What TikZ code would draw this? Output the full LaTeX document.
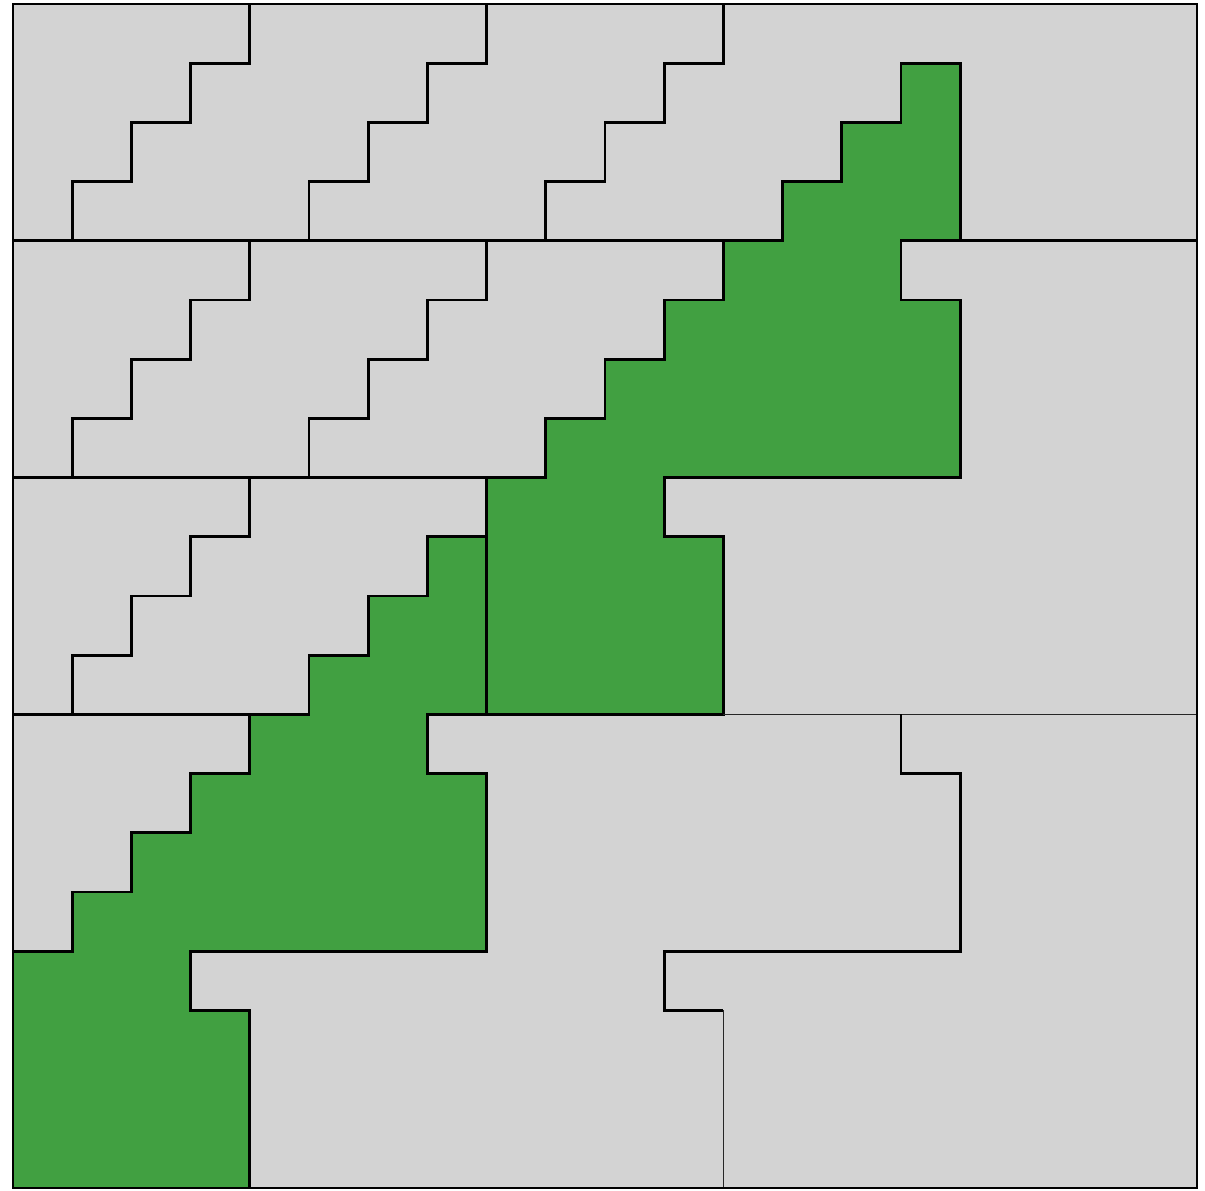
\documentclass[tikz,border=0pt]{standalone}
\definecolor{tilegrey}{RGB}{211,211,211}
\definecolor{tilegreen}{RGB}{65,160,65}
\tikzset{
  edge/.style={draw=black,line width=1.3pt,line join=miter},
  thinedge/.style={draw=black!85,line width=0.7pt},
  greenpiece/.style={fill=tilegreen,draw=black,line width=1.3pt}
}
\begin{document}
\begin{tikzpicture}[x=1cm,y=1cm]
\useasboundingbox (-0.2196,-0.0338) rectangle (20.135,20.0676);
% background square
\fill[tilegrey] (0,0) rectangle (20,20);
% green pieces
\path[greenpiece] (15,19)--(16,19)--(16,16)--(15,16)--(15,15)--(16,15)--(16,12)--(11,12)--(11,11)--(12,11)--(12,8)--(8,8)--(8,12)--(9,12)--(9,13)--(10,13)--(10,14)--(11,14)--(11,15)--(12,15)--(12,16)--(13,16)--(13,17)--(14,17)--(14,18)--(15,18)--cycle;
\path[greenpiece] (7,11)--(8,11)--(8,8)--(7,8)--(7,7)--(8,7)--(8,4)--(3,4)--(3,3)--(4,3)--(4,0)--(0,0)--(0,4)--(1,4)--(1,5)--(2,5)--(2,6)--(3,6)--(3,7)--(4,7)--(4,8)--(5,8)--(5,9)--(6,9)--(6,10)--(7,10)--cycle;
% staircases
\foreach \cx/\by in {0/16,4/16,8/16,0/12,4/12,0/8}{
  \draw[edge] (\cx+1,\by)--(\cx+1,\by+1)--(\cx+2,\by+1)--(\cx+2,\by+2)--(\cx+3,\by+2)--(\cx+3,\by+3)--(\cx+4,\by+3)--(\cx+4,\by+4);
}
% band boundaries
\draw[edge] (0,16)--(12,16);
\draw[edge] (16,16)--(20,16);
\draw[edge] (0,12)--(8,12);
\draw[edge] (0,8)--(4,8);
\draw[thinedge] (12,8)--(20,8);
% lower right piece outline
\draw[edge] (15,8)--(15,7)--(16,7)--(16,4)--(11,4)--(11,3)--(12,3);
\draw[thinedge] (12,3)--(12,0);
% outer border
\draw[edge] (0,0) rectangle (20,20);
\end{tikzpicture}
\end{document}
